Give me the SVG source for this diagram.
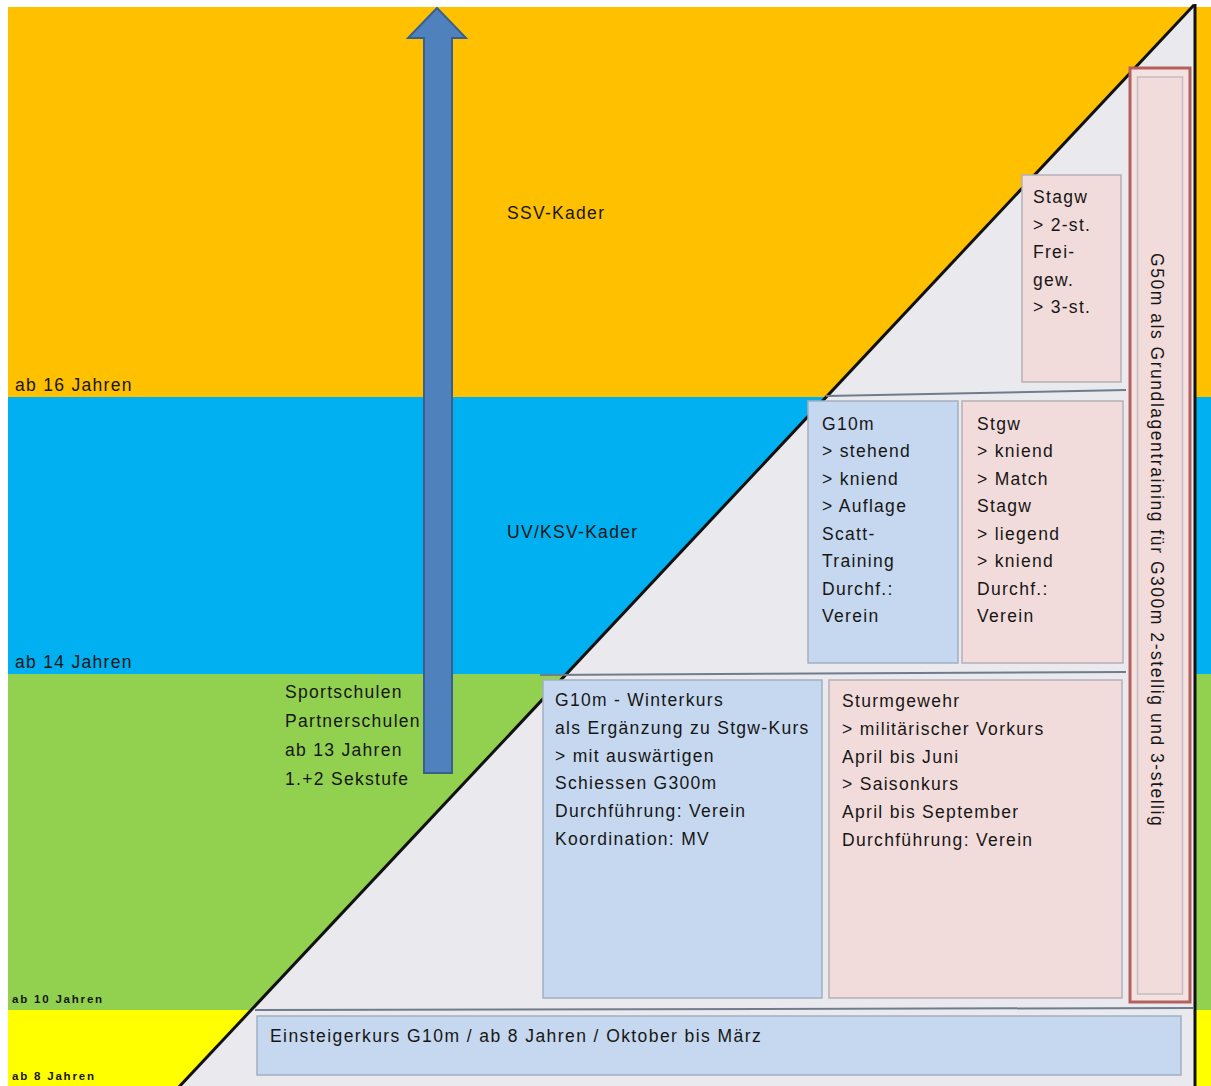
<svg xmlns="http://www.w3.org/2000/svg" width="1211" height="1086" viewBox="0 0 1211 1086">
  <style>
    .t { font-family: "Liberation Sans", Arial, sans-serif; font-size: 17.5px; letter-spacing: 1.3px; fill: #161616; }
    .s { font-family: "Liberation Sans", Arial, sans-serif; font-size: 11.5px; font-weight: bold; letter-spacing: 1.8px; fill: #161616; }
    .blue { fill: #C6D8EF; stroke: #A3AFC2; stroke-width: 1.5; }
    .pink { fill: #F2DCDB; stroke: #B7AEB8; stroke-width: 1.5; }
    .rule { stroke: #6F7C8E; stroke-width: 2; fill: none; }
  </style>

  <!-- page -->
  <rect x="0" y="0" width="1211" height="1086" fill="#ffffff"/>

  <!-- age bands -->
  <g id="bands">
    <rect x="8" y="7" width="1203" height="390" fill="#FFC000"/>
    <rect x="8" y="397" width="1203" height="277" fill="#00B0F0"/>
    <rect x="8" y="674" width="1203" height="336" fill="#92D050"/>
    <rect x="8" y="1010" width="1203" height="76" fill="#FFFF00"/>
  </g>

  <!-- pyramid area -->
  <g id="pyramid">
    <polygon points="1194,5 1195,1086 179,1086" fill="#EAEAEE"/>
    <line x1="1194" y1="5" x2="178" y2="1088" stroke="#111" stroke-width="3"/>
    <line x1="1195" y1="4" x2="1195" y2="1086" stroke="#111" stroke-width="3"/>
  </g>

  <!-- row rules -->
  <g id="connectors">
    <line class="rule" x1="826" y1="396" x2="1126" y2="390"/>
    <line class="rule" x1="540" y1="675" x2="1126" y2="672"/>
    <line class="rule" x1="255" y1="1010" x2="1194" y2="1008"/>
  </g>

  <!-- upward arrow -->
  <g id="arrow">
    <path d="M424,773 L424,38 L408,38 L437,8 L466,38 L452,38 L452,773 Z" fill="#4F81BD" stroke="#3A5F8C" stroke-width="2" stroke-linejoin="miter"/>
  </g>

  <!-- band labels -->
  <g id="label-16"><text class="t" x="15" y="391">ab 16 Jahren</text></g>
  <g id="label-14"><text class="t" x="15" y="668">ab 14 Jahren</text></g>
  <g id="label-10"><text class="s" x="12" y="1003">ab 10 Jahren</text></g>
  <g id="label-8"><text class="s" x="12" y="1080">ab 8 Jahren</text></g>
  <g id="ssv"><text class="t" x="507" y="219">SSV-Kader</text></g>
  <g id="uvksv"><text class="t" x="507" y="538">UV/KSV-Kader</text></g>
  <g id="sportschulen">
    <text class="t" x="285" y="698">Sportschulen</text>
    <text class="t" x="285" y="727">Partnerschulen</text>
    <text class="t" x="285" y="756">ab 13 Jahren</text>
    <text class="t" x="285" y="785">1.+2 Sekstufe</text>
  </g>

  <!-- G50m column -->
  <g id="g50m">
    <rect x="1130" y="68" width="60" height="934" fill="#F4E2E1" stroke="#B5605E" stroke-width="3"/>
    <rect x="1137.5" y="77" width="45" height="917" fill="#F2DCDB" stroke="#C4BDBF" stroke-width="1.5"/>
    <text class="t" transform="translate(1151,253) rotate(90)" textLength="574" lengthAdjust="spacing">G50m als Grundlagentraining für G300m 2-stellig und 3-stellig</text>
  </g>

  <!-- Stagw / Freigewehr -->
  <g id="stagw-frei">
    <rect class="pink" x="1022" y="175" width="99" height="207"/>
    <text class="t" x="1033" y="203">Stagw</text>
    <text class="t" x="1033" y="230.5">&gt; 2-st.</text>
    <text class="t" x="1033" y="258">Frei-</text>
    <text class="t" x="1033" y="285.5">gew.</text>
    <text class="t" x="1033" y="313">&gt; 3-st.</text>
  </g>

  <!-- G10m positions -->
  <g id="g10m-kader">
    <rect class="blue" x="808" y="401" width="150" height="262"/>
    <text class="t" x="822" y="429.5">G10m</text>
    <text class="t" x="822" y="457">&gt; stehend</text>
    <text class="t" x="822" y="484.5">&gt; kniend</text>
    <text class="t" x="822" y="512">&gt; Auflage</text>
    <text class="t" x="822" y="539.5">Scatt-</text>
    <text class="t" x="822" y="567">Training</text>
    <text class="t" x="822" y="594.5">Durchf.:</text>
    <text class="t" x="822" y="622">Verein</text>
  </g>

  <!-- Stgw positions -->
  <g id="stgw-kader">
    <rect class="pink" x="962" y="401" width="161" height="262"/>
    <text class="t" x="977" y="429.5">Stgw</text>
    <text class="t" x="977" y="457">&gt; kniend</text>
    <text class="t" x="977" y="484.5">&gt; Match</text>
    <text class="t" x="977" y="512">Stagw</text>
    <text class="t" x="977" y="539.5">&gt; liegend</text>
    <text class="t" x="977" y="567">&gt; kniend</text>
    <text class="t" x="977" y="594.5">Durchf.:</text>
    <text class="t" x="977" y="622">Verein</text>
  </g>

  <!-- G10m winter course -->
  <g id="winterkurs">
    <rect class="blue" x="543" y="680" width="279" height="318"/>
    <text class="t" x="555" y="706">G10m - Winterkurs</text>
    <text class="t" x="555" y="734">als Ergänzung zu Stgw-Kurs</text>
    <text class="t" x="555" y="761.5">&gt; mit auswärtigen</text>
    <text class="t" x="555" y="789">Schiessen G300m</text>
    <text class="t" x="555" y="817">Durchführung: Verein</text>
    <text class="t" x="555" y="844.5">Koordination: MV</text>
  </g>

  <!-- Sturmgewehr course -->
  <g id="sturmgewehr">
    <rect class="pink" x="829" y="680" width="293" height="318"/>
    <text class="t" x="842" y="707">Sturmgewehr</text>
    <text class="t" x="842" y="735">&gt; militärischer Vorkurs</text>
    <text class="t" x="842" y="762.5">April bis Juni</text>
    <text class="t" x="842" y="790">&gt; Saisonkurs</text>
    <text class="t" x="842" y="818">April bis September</text>
    <text class="t" x="842" y="846">Durchführung: Verein</text>
  </g>

  <!-- entry course -->
  <g id="einsteigerkurs">
    <rect class="blue" x="257" y="1016" width="924" height="59"/>
    <text class="t" x="270" y="1042" textLength="492" lengthAdjust="spacing">Einsteigerkurs G10m / ab 8 Jahren / Oktober bis März</text>
  </g>
</svg>
